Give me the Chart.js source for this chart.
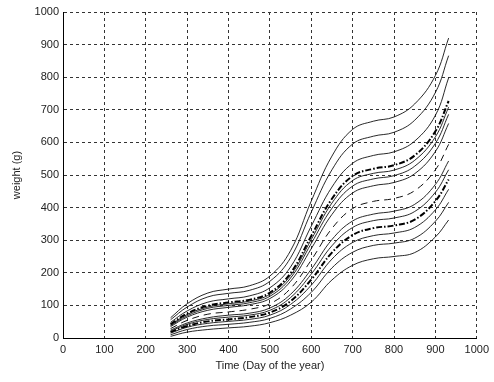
<!DOCTYPE html>
<html><head><meta charset="utf-8">
<script src="https://cdn.jsdelivr.net/npm/chart.js@4/dist/chart.umd.min.js"></script>
<style>html,body{margin:0;padding:0;background:#fff}#wrap{width:494px;height:382px}</style>
</head><body><div id="wrap"><canvas id="c" width="494" height="382"></canvas></div>
<script>
const days = [260, 300, 350, 400, 450, 500, 550, 600, 650, 700, 750, 800, 850, 900, 932];
const w01 = [62, 105, 138, 150, 160, 190, 268, 420, 558, 640, 665, 678, 718, 805, 920];
const w02 = [56, 95, 126, 137, 146, 174, 246, 386, 516, 595, 619, 631, 668, 753, 866];
const w03 = [48, 83, 110, 120, 129, 154, 218, 343, 463, 536, 560, 571, 604, 683, 798];
const wUpper = [42, 75, 99, 109, 117, 139, 199, 313, 427, 497, 519, 530, 560, 634, 727];
const w05 = [40, 72, 95, 105, 113, 134, 192, 302, 414, 483, 505, 515, 545, 617, 708];
const w06 = [38, 68, 91, 100, 108, 128, 184, 290, 398, 466, 488, 498, 527, 597, 686];
const w07 = [35, 64, 85, 94, 102, 121, 174, 274, 379, 445, 467, 477, 504, 572, 658];
const wMean = [29, 54, 73, 80, 88, 105, 152, 239, 336, 397, 419, 428, 452, 516, 594];
const w09 = [24, 46, 62, 70, 76, 92, 134, 211, 302, 359, 380, 389, 410, 471, 543];
const w10 = [21, 42, 57, 64, 70, 85, 124, 196, 283, 339, 360, 368, 388, 447, 516];
const wLower = [18, 37, 51, 57, 64, 78, 113, 179, 262, 316, 337, 345, 363, 420, 486];
const w12 = [15, 33, 45, 51, 57, 70, 103, 162, 242, 293, 314, 322, 339, 393, 456];
const w13 = [10, 26, 37, 42, 48, 60, 89, 140, 215, 263, 284, 291, 306, 358, 416];
const w14 = [5, 18, 26, 31, 36, 47, 70, 110, 178, 223, 243, 250, 262, 310, 362];
const xTicks = [0,100,200,300,400,500,600,700,800,900,1000];
const yTicks = [0,100,200,300,400,500,600,700,800,900,1000];

const solid = [w01,w02,w03,w05,w06,w07,w09,w10,w12,w13,w14];
const pts = arr => arr.map((v,i)=>({x:days[i], y:v}));
const datasets = solid.map(a=>({data:pts(a), borderColor:'#111', borderWidth:0.9}));
datasets.push({data:pts(wMean), borderColor:'#111', borderWidth:1, borderDash:[7,5]});
datasets.push({data:pts(wUpper), borderColor:'#000', borderWidth:2, borderDash:[6,2,1.5,2]});
datasets.push({data:pts(wLower), borderColor:'#000', borderWidth:2, borderDash:[6,2,1.5,2]});
datasets.forEach(d=>{d.pointRadius=0;d.fill=false;d.tension=0.4;});

const font = {family:"'Liberation Sans', Arial, sans-serif", size:11};
new Chart(document.getElementById('c'), {
  type:'line',
  data:{datasets},
  options:{
    responsive:false, animation:false,
    layout:{padding:{top:12,right:17,left:0,bottom:0}},
    plugins:{legend:{display:false}, tooltip:{enabled:false}},
    scales:{
      x:{type:'linear', min:0, max:1000,
        afterBuildTicks:s=>{s.ticks=xTicks.map(v=>({value:v}));},
        afterFit:s=>{s.height=44;},
        ticks:{font, color:'#222', maxRotation:0, padding:5, callback:v=>String(v)},
        grid:{color:'#333', lineWidth:1, drawTicks:false},
        border:{display:true, color:'#000', width:1, dash:[3,3]},
        title:{display:true, text:'Time (Day of the year)', font, color:'#222', padding:{top:0,bottom:9}}
      },
      y:{min:0, max:1000,
        afterBuildTicks:s=>{s.ticks=yTicks.map(v=>({value:v}));},
        afterFit:s=>{s.width=63;},
        ticks:{font, color:'#222', padding:4, callback:v=>String(v)},
        grid:{color:'#333', lineWidth:1, drawTicks:false},
        border:{display:true, color:'#000', width:1, dash:[3,3]},
        title:{display:true, text:'weight (g)', font, color:'#222', padding:{top:10,bottom:4}}
      }
    }
  }
});
</script></body></html>
